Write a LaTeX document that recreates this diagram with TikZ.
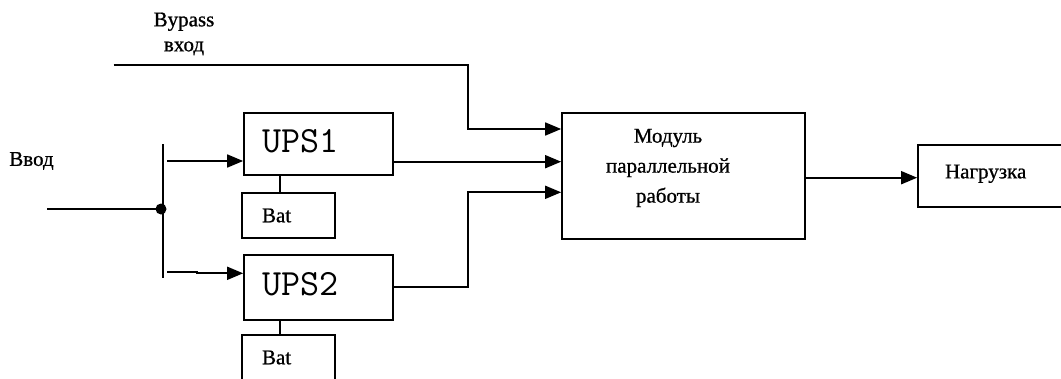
\documentclass[tikz,border=0pt]{standalone}
\usepackage{fontspec}
\setmainfont{Liberation Serif}[FakeBold=0.8]
\usetikzlibrary{arrows.meta,positioning,calc}

\begin{document}
\begin{tikzpicture}[x=1pt,y=-1pt,line width=1.7pt,
  box/.style={draw,rectangle,inner sep=0pt,align=left},
  upsbox/.style={box,minimum width=149pt,text width=113pt,font=\ttfamily\fontsize{37}{37}\selectfont,text depth=7pt},
  batbox/.style={box,minimum width=93pt,minimum height=45pt,text width=53pt,font=\fontsize{21}{22}\selectfont},
  lbl/.style={font=\fontsize{21}{25}\selectfont,align=center,inner sep=0pt},
  arr/.style={-{Triangle[length=16pt,width=13pt]}}]

\useasboundingbox (0,0) rectangle (1061,378);

% draw the ups blocks with their batteries
\foreach \n/\yc/\h/\yb in {1/144/62/215.5, 2/287.5/65/357.5}
{
\node[upsbox,minimum height=\h] (ups\n) at (318.5,\yc) {UPS\n};
\node[batbox] (bat\n) at (288.5,\yb) {Bat};
\draw (ups\n.south -| 280,0) -- (bat\n.north -| 280,0);
}

% draw the parallel module and the load
\node[box,minimum width=243pt,minimum height=126pt] (mod) at (683.5,176) {};
\node[lbl,font=\fontsize{21}{30}\selectfont] (modtxt) at (668,168) {Модуль\\параллельной\\работы};
\node[box,minimum width=170pt,minimum height=62pt,text width=116pt,text depth=9pt,font=\fontsize{21}{22}\selectfont] (load) at (1003,176) {Нагрузка};

% labels of the inputs
\node[lbl] (byptxt) at (184,34) {Bypass\\вход};
\node[lbl] (intxt) at (31.5,161) {Ввод};

% input bus
\coordinate (in) at (47,209);
\coordinate (jn) at (163,209);
\coordinate (bustop) at (163,144);
\coordinate (busbot) at (163,278);
\coordinate (b1) at (167,161);
\coordinate (b2) at (167,271.7);
\draw (bustop) -- (busbot);
\draw (in) -- (jn);
\fill ($(jn)+(-2,0)$) circle (5.5pt);
\draw[arr] (b1) -- (ups1.west |- 0,161);
\draw[arr] (b2) -- ++(30,0) -- ++(0,1.6) -- (ups2.west |- 0,273.3);

% draw the inputs of the module
\coordinate (byp) at (113.6,65);
\draw[arr] (byp) -| (468.3,129) -- (mod.west |- 0,129);
\draw[arr] (ups1.east |- 0,161.7) -- (mod.west |- 0,161.7);
\draw[arr] (ups2.east |- 0,287.3) -| (468.3,192.3) -- (mod.west |- 0,192.3);

% output to the load
\draw[arr] (mod.east |- 0,177.7) -- (load.west |- 0,177.7);

\end{tikzpicture}
\end{document}
